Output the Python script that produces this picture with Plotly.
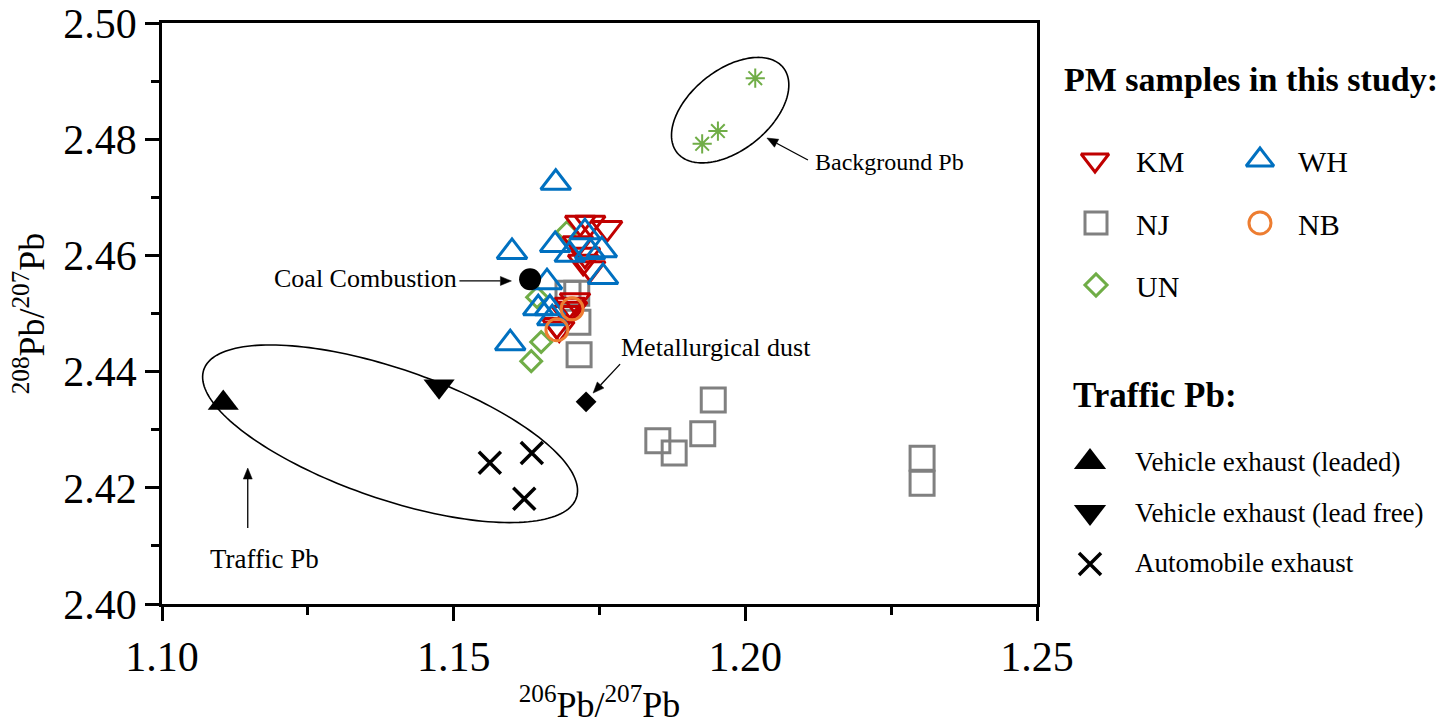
import numpy as np
import plotly.graph_objects as go

# ---- data: 206Pb/207Pb (x) and 208Pb/207Pb (y) ----
km_x = [1.1717, 1.1734, 1.1763, 1.1713, 1.1725, 1.1734, 1.1722, 1.1699, 1.1694, 1.1677, 1.1708, 1.1703, 1.1681]
km_y = [2.4656, 2.4656, 2.4647, 2.4621, 2.4601, 2.4578, 2.4589, 2.4515, 2.4501, 2.4480, 2.4523, 2.4508, 2.4474]

wh_x = [1.1675, 1.1600, 1.1674, 1.1725, 1.1699, 1.1754, 1.1734, 1.1756, 1.1660, 1.1645, 1.1665, 1.1669, 1.1597]
wh_y = [2.4725, 2.4606, 2.4618, 2.4640, 2.4601, 2.4609, 2.4606, 2.4563, 2.4554, 2.4509, 2.4509, 2.4492, 2.4449]

nj_x = [1.1696, 1.1711, 1.1713, 1.1715, 1.1945, 1.1927, 1.1850, 1.1878, 1.2303, 1.2303]
nj_y = [2.4535, 2.4535, 2.4485, 2.4429, 2.4351, 2.4293, 2.4281, 2.4260, 2.4251, 2.4208]

nb_x = [1.1703, 1.1677]
nb_y = [2.4508, 2.4472]

un_x = [1.1694, 1.1643, 1.1650, 1.1633]
un_y = [2.4640, 2.4528, 2.4451, 2.4418]

bg_x = [1.2017, 1.1953, 1.1926]
bg_y = [2.4905, 2.4814, 2.4792]

leaded_x, leaded_y = [1.1105], [2.4346]
leadfree_x, leadfree_y = [1.1475], [2.4375]
auto_x = [1.1562, 1.1634, 1.1621]
auto_y = [2.4243, 2.4260, 2.4181]

coal_x, coal_y = [1.1631], [2.4559]
metal_x, metal_y = [1.1727], [2.4348]

x_range = [1.10, 1.25]
y_range = [2.40, 2.50]
x_ticks = [1.10, 1.15, 1.20, 1.25]
y_ticks = [2.40, 2.42, 2.44, 2.46, 2.48, 2.50]

# ---- colours ----
RED = "#C00000"
BLUE = "#0070C0"
GRAY = "#808080"
ORANGE = "#ED7D31"
GREEN = "#70AD47"
BLACK = "#000000"
FONT = "Liberation Serif"

W, H = 1454, 725
# plot area in pixels
PL, PR, PT, PB = 162, 1037, 23, 604

fig = go.Figure()


def add(x, y, symbol, color, size, lw=3, ref=("x", "y"), fill=None):
    fig.add_trace(go.Scatter(
        x=x, y=y, mode="markers", xaxis=ref[0], yaxis=ref[1],
        marker=dict(symbol=symbol, size=size, color=fill or color,
                    line=dict(color=color, width=lw)),
        showlegend=False, hoverinfo="skip", cliponaxis=False))


# sample series
add(nj_x, nj_y, "square-open", GRAY, 24)
add(un_x, un_y, "diamond-open", GREEN, 16)
add(km_x, km_y, "triangle-down-open", RED, 26)
add(wh_x, wh_y, "triangle-up-open", BLUE, 26)
add(nb_x, nb_y, "circle-open", ORANGE, 22)
add(bg_x, bg_y, "asterisk-open", GREEN, 16, lw=2)

# source end-members
add(leaded_x, leaded_y, "triangle-up", BLACK, 27, lw=0)
add(leadfree_x, leadfree_y, "triangle-down", BLACK, 27, lw=0)
add(auto_x, auto_y, "x-thin-open", BLACK, 22, lw=3.5)
add(coal_x, coal_y, "circle", BLACK, 22, lw=0)
add(metal_x, metal_y, "diamond", BLACK, 16, lw=0)

# ---- ellipses enclosing source groups ----
sx = (x_range[1] - x_range[0]) / (PR - PL)   # data units per pixel
sy = (y_range[1] - y_range[0]) / (PB - PT)


def ellipse_path(cx, cy, a_px, b_px, ang_deg):
    t = np.linspace(0, 2 * np.pi, 181)
    th = np.radians(ang_deg)
    dx = a_px * np.cos(t) * np.cos(th) - b_px * np.sin(t) * np.sin(th)
    dy = a_px * np.cos(t) * np.sin(th) + b_px * np.sin(t) * np.cos(th)
    xs = cx + dx * sx
    ys = cy + dy * sy
    pts = [f"{xx:.6f},{yy:.6f}" for xx, yy in zip(xs, ys)]
    return "M " + " L ".join(pts) + " Z"


fig.add_shape(type="path", xref="x", yref="y",
              path=ellipse_path(1.1974, 2.4850, 68, 40, 38.7),
              line=dict(color=BLACK, width=1.6))
fig.add_shape(type="path", xref="x", yref="y",
              path=ellipse_path(1.1391, 2.4293, 197, 65, -19),
              line=dict(color=BLACK, width=1.6))


# ---- arrows: a line plus a filled head, tail given as a pixel offset ----
def arrow(x, y, ax, ay, head=11, half=4.5):
    L = np.hypot(ax, ay)
    ux, uy = ax / L, ay / L              # unit vector tip -> tail (screen px)
    bx, by = ux * head, uy * head        # base of the head
    px_, py_ = -uy * half, ux * half     # perpendicular
    def d(ox, oy):
        return x + ox * sx, y - oy * sy
    tx, ty = d(ax, ay)
    mx, my = d(bx, by)
    fig.add_shape(type="line", xref="x", yref="y", x0=tx, y0=ty, x1=mx, y1=my,
                  line=dict(color=BLACK, width=1.3))
    p1 = d(bx + px_, by + py_)
    p2 = d(bx - px_, by - py_)
    fig.add_shape(type="path", xref="x", yref="y",
                  path=f"M {x:.6f},{y:.6f} L {p1[0]:.6f},{p1[1]:.6f} "
                       f"L {p2[0]:.6f},{p2[1]:.6f} Z",
                  fillcolor=BLACK, line=dict(color=BLACK, width=0.5))


def label(x, y, text, anchor, size=26):
    fig.add_annotation(x=x, y=y, xref="x", yref="y", text=text,
                       showarrow=False, xanchor=anchor, yanchor="middle",
                       borderpad=0,
                       font=dict(family=FONT, size=size, color=BLACK))


arrow(1.1599, 2.4556, -52, 0)
label(1.1507, 2.4560, "Coal Combustion", "right")
arrow(1.2037, 2.4802, 41, 22)
label(1.2117, 2.4760, "Background Pb", "left", size=24)
arrow(1.1739, 2.4363, 27, -29)
label(1.1785, 2.4442, "Metallurgical dust", "left")
arrow(1.1147, 2.4234, 0, 60)
label(1.1080, 2.4078, "Traffic Pb", "left", size=27)

# ---- key (drawn on a full-figure pixel overlay) ----
ov = ("x2", "y2")
add([1095], [160], "triangle-down-open", RED, 24, ref=ov)
add([1260], [160], "triangle-up-open", BLUE, 24, ref=ov)
add([1096], [223], "square-open", GRAY, 22, ref=ov)
add([1260], [223], "circle-open", ORANGE, 22, ref=ov)
add([1096], [285], "diamond-open", GREEN, 17, ref=ov)
add([1090], [462], "triangle-up", BLACK, 28, lw=0, ref=ov)
add([1090], [512], "triangle-down", BLACK, 28, lw=0, ref=ov)
add([1090], [564], "x-thin-open", BLACK, 22, lw=3.5, ref=ov)


def key_text(x, y, text, size=28, bold=False):
    fig.add_annotation(x=x, y=y, xref="x2", yref="y2",
                       text=f"<b>{text}</b>" if bold else text,
                       showarrow=False, xanchor="left", yanchor="middle",
                       font=dict(family=FONT, size=size, color=BLACK))


key_text(1062, 79, "PM samples in this study:", size=34, bold=True)
key_text(1134, 161, "KM", size=30)
key_text(1296, 161, "WH", size=30)
key_text(1134, 224, "NJ", size=30)
key_text(1296, 224, "NB", size=30)
key_text(1134, 286, "UN", size=30)
key_text(1071, 395, "Traffic Pb:", size=35, bold=True)
key_text(1133, 462, "Vehicle exhaust (leaded)", size=27)
key_text(1133, 513, "Vehicle exhaust (lead free)", size=27)
key_text(1133, 563, "Automobile exhaust", size=27)

axis_common = dict(
    showline=True, linecolor=BLACK, linewidth=2.5, mirror=True,
    ticks="outside", ticklen=14, tickwidth=2.5, tickcolor=BLACK,
    showgrid=False, zeroline=False, automargin=False,
    tickfont=dict(family=FONT, size=42, color=BLACK),
)

fig.update_layout(
    width=W, height=H, autosize=False,
    margin=dict(l=0, r=0, t=0, b=0, pad=0, autoexpand=False),
    paper_bgcolor="white", plot_bgcolor="rgba(0,0,0,0)",
    showlegend=False,
    xaxis=dict(
        domain=[PL / W, PR / W], range=x_range, tickvals=x_ticks,
        ticktext=[f"{v:.2f}" for v in x_ticks],
        minor=dict(dtick=0.025, tick0=1.10, ticks="outside", ticklen=8,
                   tickwidth=2.5, tickcolor=BLACK, showgrid=False),
        title=dict(text="<sup>206</sup>Pb/<sup>207</sup>Pb",
                   font=dict(family=FONT, size=36, color=BLACK), standoff=14),
        anchor="y", **axis_common),
    yaxis=dict(
        domain=[(H - PB) / H, (H - PT) / H], range=y_range, tickvals=y_ticks,
        ticktext=[f"{v:.2f}" for v in y_ticks],
        minor=dict(dtick=0.01, tick0=2.40, ticks="outside", ticklen=8,
                   tickwidth=2.5, tickcolor=BLACK, showgrid=False),
        title=dict(text="<sup>208</sup>Pb/<sup>207</sup>Pb",
                   font=dict(family=FONT, size=36, color=BLACK), standoff=8),
        anchor="x", **axis_common),
    xaxis2=dict(domain=[0, 1], range=[0, W], visible=False, anchor="y2",
                fixedrange=True, automargin=False),
    yaxis2=dict(domain=[0, 1], range=[H, 0], visible=False, anchor="x2",
                fixedrange=True, automargin=False),
)

fig.write_html("out.html")
